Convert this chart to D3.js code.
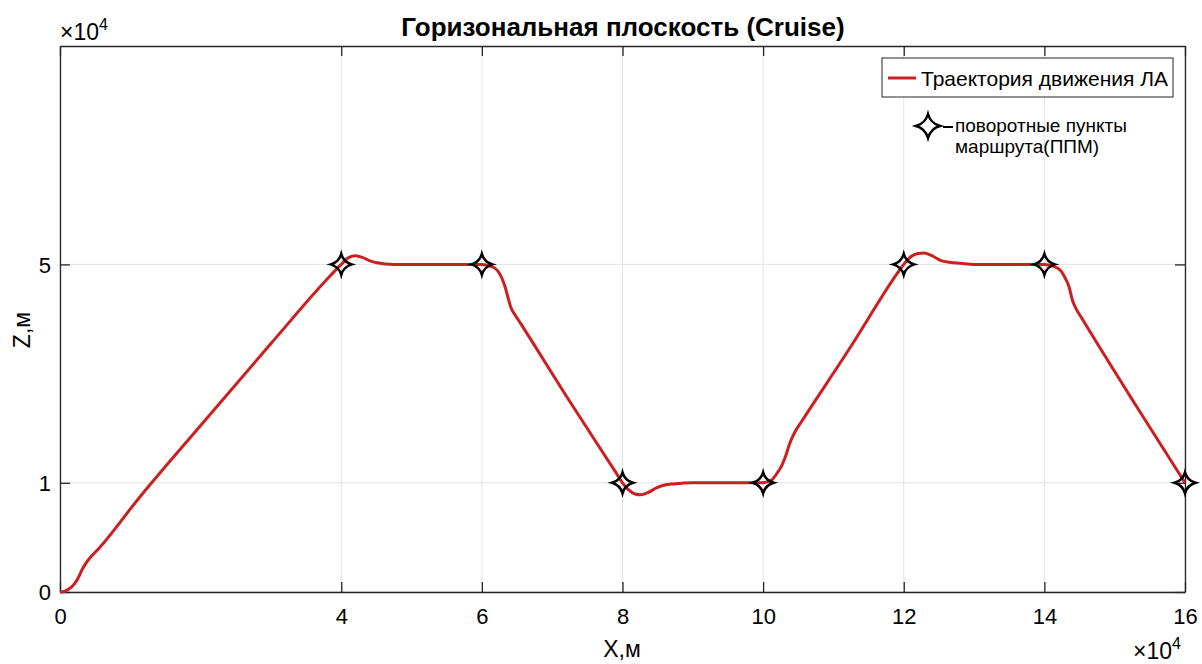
<!DOCTYPE html>
<html>
<head>
<meta charset="utf-8">
<script src="https://cdn.jsdelivr.net/npm/d3@7"></script>
<style>
body { margin: 0; background: #fff; }
text { font-family: "Liberation Sans", Arial, sans-serif; fill: #000; }
</style>
</head>
<body>
<div id="graph"></div>
<script>
// trajectory (x and z in units of 1e4 m)
const trajX = [0, 0.06, 0.12, 0.2, 0.26, 0.31, 0.36, 0.45, 0.54, 1.11, 2, 3, 3.85, 4, 4.1, 4.2, 4.3, 4.4, 4.51, 4.74, 5.5, 6,
  6.12, 6.22, 6.28, 6.33, 6.37, 6.41, 6.48, 6.55, 7.26, 7.9, 8, 8.08, 8.17, 8.26, 8.36, 8.49, 8.6, 8.73, 9, 10,
  10.12, 10.2, 10.27, 10.32, 10.36, 10.4, 10.46, 10.53, 11.25, 11.9, 12, 12.1, 12.2, 12.29, 12.4, 12.53, 12.65, 12.81, 13, 14,
  14.12, 14.23, 14.3, 14.35, 14.4, 14.45, 14.52, 15.3, 16];
const trajZ = [-1, -0.99, -0.95, -0.86, -0.74, -0.6, -0.49, -0.34, -0.22, 0.7, 2.05, 3.55, 4.8, 5, 5.12, 5.16, 5.13, 5.07, 5.03, 5.0, 5, 5,
  4.97, 4.89, 4.76, 4.59, 4.4, 4.22, 4.06, 3.92, 2.47, 1.2, 1, 0.88, 0.8, 0.78, 0.82, 0.91, 0.96, 0.98, 1.0, 1,
  1.05, 1.18, 1.33, 1.49, 1.65, 1.79, 1.95, 2.09, 3.5, 4.82, 5, 5.14, 5.2, 5.21, 5.16, 5.07, 5.04, 5.02, 5.0, 5,
  4.97, 4.89, 4.74, 4.59, 4.34, 4.19, 4.04, 2.42, 1];
// turn points (ППМ)
const wpX = [4, 6, 8, 10, 12, 14, 16];
const wpZ = [5, 5, 1, 1, 5, 5, 1];
// ticks
const xTicks = [0, 4, 6, 8, 10, 12, 14, 16];
const yTickVals = [-1, 1, 5];
const yTickLabels = ["0", "1", "5"];

const w = 1202, h = 664;
const pLeft = 60, pRight = 1185, pTop = 46, pBottom = 592;

const svg = d3.select("#graph").append("svg")
  .attr("width", w).attr("height", h);

const xScale = d3.scaleLinear().domain([0, 16]).range([pLeft, pRight]);
const yScale = d3.scaleLinear().domain([-1, 9]).range([pBottom, pTop]);

//grid
svg.append("g").selectAll("line").data(xTicks).enter().append("line")
  .attr("x1", d => xScale(d)).attr("x2", d => xScale(d))
  .attr("y1", pTop).attr("y2", pBottom)
  .attr("stroke", "#e3e3e3").attr("stroke-width", 1);
svg.append("g").selectAll("line").data(yTickVals).enter().append("line")
  .attr("y1", d => yScale(d)).attr("y2", d => yScale(d))
  .attr("x1", pLeft).attr("x2", pRight)
  .attr("stroke", "#e3e3e3").attr("stroke-width", 1);

// axes, ticks inside on all 4 sides
const axisCol = "#262626";
const xAxis = d3.axisBottom(xScale).tickValues(xTicks).tickSizeInner(-10).tickSizeOuter(0).tickPadding(16);
const yAxis = d3.axisLeft(yScale).tickValues(yTickVals).tickFormat((d, i) => yTickLabels[i]).tickSizeInner(-10).tickSizeOuter(0).tickPadding(9);
const gx = svg.append("g").attr("transform", "translate(0," + pBottom + ")").call(xAxis);
const gy = svg.append("g").attr("transform", "translate(" + pLeft + ",0)").call(yAxis);
const gxt = svg.append("g").attr("transform", "translate(0," + pTop + ")")
  .call(d3.axisTop(xScale).tickValues(xTicks).tickSizeInner(-10).tickSizeOuter(0).tickFormat(""));
const gyr = svg.append("g").attr("transform", "translate(" + pRight + ",0)")
  .call(d3.axisRight(yScale).tickValues(yTickVals).tickSizeInner(-10).tickSizeOuter(0).tickFormat(""));
[gx, gy, gxt, gyr].forEach(g => {
  g.select(".domain").attr("stroke", axisCol).attr("stroke-width", 1.3);
  g.selectAll(".tick line").attr("stroke", axisCol).attr("stroke-width", 1.3);
  g.selectAll(".tick text").style("font-family", "'Liberation Sans', Arial, sans-serif")
    .style("font-size", "22px").attr("fill", "#000");
});
gy.selectAll(".tick text").attr("dy", "0.36em");

// trajectory line
const line = d3.line()
  .x((d, i) => xScale(trajX[i]))
  .y((d, i) => yScale(trajZ[i]))
  .curve(d3.curveMonotoneX);
svg.append("path").datum(trajX)
  .attr("d", line)
  .attr("fill", "none")
  .attr("stroke", "#cc1f1f")
  .attr("stroke-width", 3)
  .attr("stroke-linejoin", "round");

// 4 point star marker
function star(r) {
  const k = r * 0.22;
  return "M0," + (-r) + " Q" + k + "," + (-k) + " " + r + ",0 Q" + k + "," + k + " 0," + r +
    " Q" + (-k) + "," + k + " " + (-r) + ",0 Q" + (-k) + "," + (-k) + " 0," + (-r) + "Z";
}
svg.append("g").selectAll("path").data(wpX).enter().append("path")
  .attr("d", star(10.5))
  .attr("transform", (d, i) => "translate(" + xScale(d) + "," + yScale(wpZ[i]) + ")")
  .attr("fill", "none").attr("stroke", "#000").attr("stroke-width", 2.5);

// title & labels
svg.append("text").attr("x", 623).attr("y", 36).attr("text-anchor", "middle")
  .style("font-size", "26px").style("font-weight", "bold")
  .text("Горизональная плоскость (Cruise)");
svg.append("text").attr("x", 622).attr("y", 657).attr("text-anchor", "middle")
  .style("font-size", "23px").text("X,м");
svg.append("text").attr("transform", "translate(30,330) rotate(-90)").attr("text-anchor", "middle")
  .style("font-size", "23px").text("Z,м");

// exponent labels
const e1 = svg.append("text").attr("x", 60).attr("y", 40).style("font-size", "23px");
e1.append("tspan").text("×10");
e1.append("tspan").attr("dy", -10).style("font-size", "16px").text("4");
const e2 = svg.append("text").attr("x", 1133).attr("y", 659).style("font-size", "23px");
e2.append("tspan").text("×10");
e2.append("tspan").attr("dy", -10).style("font-size", "16px").text("4");

// legend
svg.append("rect").attr("x", 882).attr("y", 58).attr("width", 291).attr("height", 39)
  .attr("fill", "#fff").attr("stroke", "#262626").attr("stroke-width", 1);
svg.append("line").attr("x1", 888).attr("x2", 916).attr("y1", 78).attr("y2", 78)
  .attr("stroke", "#cc1f1f").attr("stroke-width", 3);
svg.append("text").attr("x", 921).attr("y", 85.5).style("font-size", "21px")
  .text("Траектория движения ЛА");

svg.append("path").attr("d", star(12)).attr("transform", "translate(928,126)")
  .attr("fill", "#fff").attr("stroke", "#000").attr("stroke-width", 2.4);
svg.append("line").attr("x1", 943).attr("x2", 953).attr("y1", 127).attr("y2", 127)
  .attr("stroke", "#000").attr("stroke-width", 2);
svg.append("text").attr("x", 955).attr("y", 132).style("font-size", "19px").text("поворотные пункты");
svg.append("text").attr("x", 955).attr("y", 153).style("font-size", "19px").text("маршрута(ППМ)");
</script>
</body>
</html>
